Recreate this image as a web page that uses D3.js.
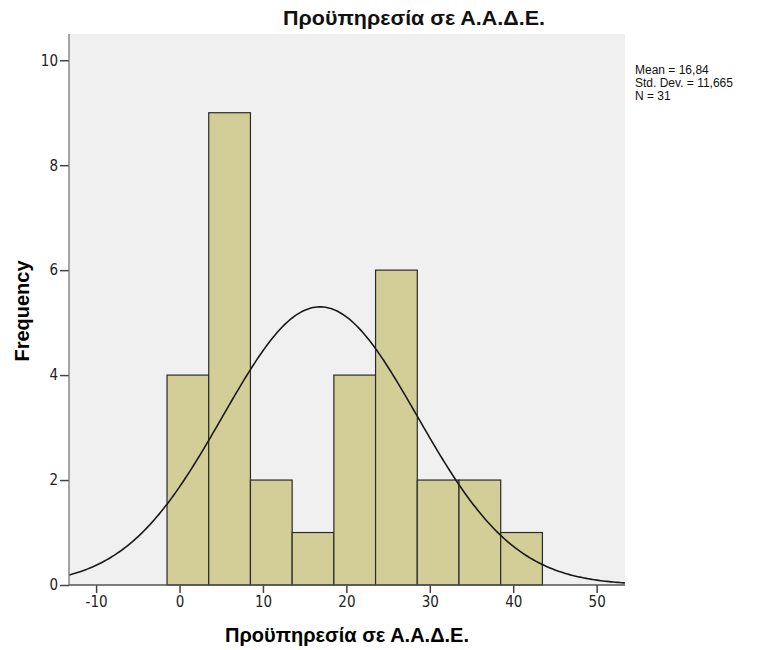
<!DOCTYPE html>
<html>
<head>
<meta charset="utf-8">
<script src="https://cdn.jsdelivr.net/npm/d3@7"></script>
<style>
  body { margin: 0; background: #fff; }
  .tick text { font-family: "Liberation Sans Narrow", "Arial Narrow", "DejaVu Sans Condensed", sans-serif; font-size: 15px; fill: #222; }
</style>
</head>
<body>
<div class="container"></div>
<script>
// histogram bins (lower edges) and counts
var binStarts = [-1.5, 3.5, 8.5, 13.5, 18.5, 23.5, 28.5, 33.5, 38.5];
var binWidth = 5;
var counts = [4, 9, 2, 1, 4, 6, 2, 2, 1];
var xTicks = [-10, 0, 10, 20, 30, 40, 50];
var yTicks = [0, 2, 4, 6, 8, 10];
var mean = 16.84, stdDev = 11.665, n = 31;
var statLines = ["Mean = 16,84", "Std. Dev. = 11,665", "N = 31"];

var width = 758, height = 650;
// plot box (don't call these top/left - window.top is read-only)
var plotL = 69, plotR = 625, plotT = 34, plotB = 585;

var svg = d3.select(".container").append("svg")
    .attr("width", width)
    .attr("height", height);

var x = d3.scaleLinear().domain([-13.25, 53.4]).range([plotL, plotR]);
var y = d3.scaleLinear().domain([0, 10.5]).range([plotB, plotT]);

// plot background
svg.append("rect")
    .attr("x", plotL).attr("y", plotT)
    .attr("width", plotR - plotL).attr("height", plotB - plotT)
    .attr("fill", "#f0f0f0");

svg.append("defs").append("clipPath").attr("id", "plotClip")
  .append("rect")
    .attr("x", plotL).attr("y", plotT)
    .attr("width", plotR - plotL).attr("height", plotB - plotT);

// bars
svg.selectAll(".bar")
    .data(counts)
    .enter()
    .append("rect")
    .attr("class", "bar")
    .attr("x", (d, i) => x(binStarts[i]))
    .attr("y", d => y(d))
    .attr("width", (d, i) => x(binStarts[i] + binWidth) - x(binStarts[i]))
    .attr("height", d => y(0) - y(d))
    .attr("fill", "#d3ce97")
    .attr("stroke", "#2b2b2b")
    .attr("stroke-width", 1.2);

// normal curve scaled to frequencies (N * bin width)
var curvePts = d3.range(x.domain()[0], x.domain()[1] + 0.25, 0.25).map(function(v) {
    var z = (v - mean) / stdDev;
    return [v, n * binWidth / (stdDev * Math.sqrt(2 * Math.PI)) * Math.exp(-0.5 * z * z)];
});
svg.append("path")
    .datum(curvePts)
    .attr("clip-path", "url(#plotClip)")
    .attr("fill", "none")
    .attr("stroke", "#1a1a1a")
    .attr("stroke-width", 1.6)
    .attr("d", d3.line().x(d => x(d[0])).y(d => y(d[1])));

// axes
var xAxis = svg.append("g")
    .attr("transform", "translate(0," + plotB + ")")
    .call(d3.axisBottom(x).tickValues(xTicks).tickSize(8).tickPadding(3).tickFormat(d => String(d)));
xAxis.select(".domain").remove();
xAxis.selectAll("line").attr("stroke", "#444").attr("stroke-width", 1.5);

var yAxis = svg.append("g")
    .attr("transform", "translate(" + plotL + ",0)")
    .call(d3.axisLeft(y).tickValues(yTicks).tickSize(9).tickPadding(2));
yAxis.select(".domain").remove();
yAxis.selectAll("line").attr("stroke", "#444").attr("stroke-width", 1.5);

svg.append("line")
    .attr("x1", plotL).attr("x2", plotL)
    .attr("y1", plotT).attr("y2", plotB)
    .attr("stroke", "#777").attr("stroke-width", 1.3);
svg.append("line")
    .attr("x1", plotL).attr("x2", plotR)
    .attr("y1", plotB).attr("y2", plotB)
    .attr("stroke", "#555").attr("stroke-width", 1.3);

// titles
svg.append("text")
    .attr("x", 414).attr("y", 25)
    .attr("text-anchor", "middle")
    .attr("textLength", 262)
    .attr("lengthAdjust", "spacingAndGlyphs")
    .style("font-family", "Liberation Sans, Arial, sans-serif")
    .style("font-size", "21px")
    .style("font-weight", "bold")
    .attr("fill", "#111")
    .text("Προϋπηρεσία σε Α.Α.Δ.Ε.");

svg.append("text")
    .attr("x", (plotL + plotR) / 2).attr("y", 642)
    .attr("text-anchor", "middle")
    .style("font-family", "Liberation Sans, Arial, sans-serif")
    .style("font-size", "20px")
    .style("font-weight", "bold")
    .text("Προϋπηρεσία σε Α.Α.Δ.Ε.");

svg.append("text")
    .attr("transform", "translate(29,311) rotate(-90)")
    .attr("text-anchor", "middle")
    .style("font-family", "Liberation Sans, Arial, sans-serif")
    .style("font-size", "20px")
    .style("font-weight", "bold")
    .text("Frequency");

// stats
svg.selectAll(".stat")
    .data(statLines)
    .enter()
    .append("text")
    .attr("class", "stat")
    .attr("x", 635)
    .attr("y", (d, i) => 74 + i * 13)
    .style("font-family", "Liberation Sans, Arial, sans-serif")
    .style("font-size", "12px")
    .attr("fill", "#111")
    .text(d => d);
</script>
</body>
</html>
